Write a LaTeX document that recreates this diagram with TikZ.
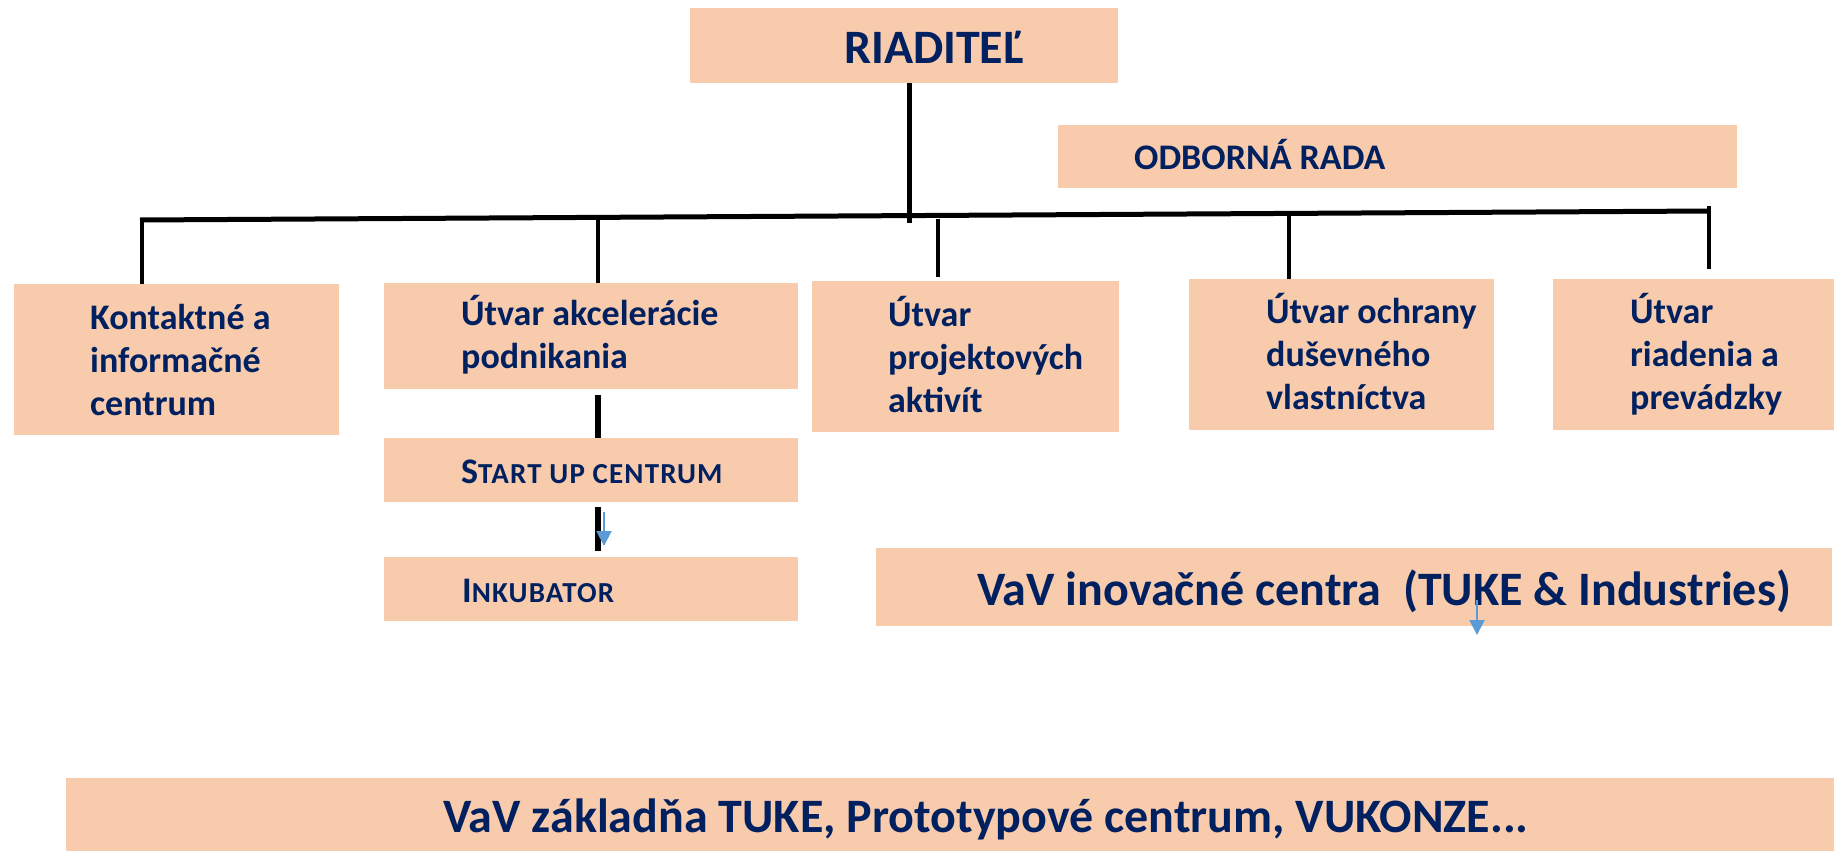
\documentclass[tikz,border=0pt]{standalone}
\usepackage{fontspec}
\setmainfont{Carlito}
\usetikzlibrary{arrows.meta}
\definecolor{boxfill}{HTML}{F8CBAD}
\definecolor{navy}{HTML}{002060}
\definecolor{arrblue}{HTML}{5B9BD5}
\newcommand\orgtext[4]{\makebox[#1pt][l]{\hspace*{#2pt}\raisebox{-#4pt}[\height][\depth]{\begin{tabular}{@{}l@{}}#3\end{tabular}}}}
\newcommand\smallcapsfake[1]{{\fontsize{29}{35}\selectfont\addfontfeature{LetterSpace=4}#1}}
\begin{document}
\begin{tikzpicture}[x=1pt,y=-1pt,
  orgbox/.style={fill=boxfill, draw=none, inner sep=0pt, anchor=north west, text=navy,
    font=\bfseries\fontsize{36}{43}\selectfont},
  bar/.style={line width=5pt, black},
  drop/.style={line width=4.5pt, black},
  bluearrow/.style={draw=arrblue, line width=2pt, -{Triangle[width=15pt,length=15pt]}}
]
\useasboundingbox (0,0) rectangle (1834,851);

% boxes (last argument of \orgtext: how far the text is lowered)
\node[orgbox, minimum width=428pt, minimum height=75pt,
  font=\bfseries\fontsize{48}{57}\selectfont] (riad) at (690,8) {\orgtext{428}{154}{RIADITEĽ}{6}};
\node[orgbox, minimum width=679pt, minimum height=63pt,
  font=\bfseries\fontsize{36}{43}\selectfont] (odb) at (1058,125) {\orgtext{679}{76}{ODBORNÁ RADA}{4}};
\node[orgbox, minimum width=325pt, minimum height=151pt] (k) at (14,284)
  {\orgtext{325}{76}{Kontaktné a\\informačné\\centrum}{4}};
\node[orgbox, minimum width=414pt, minimum height=106pt] (akc) at (384,283)
  {\orgtext{414}{77}{Útvar akcelerácie\\podnikania}{2.5}};
\node[orgbox, minimum width=307pt, minimum height=151pt] (proj) at (812,281)
  {\orgtext{307}{76}{Útvar\\projektových\\aktivít}{4}};
\node[orgbox, minimum width=305pt, minimum height=151pt] (och) at (1189,279)
  {\orgtext{305}{77}{Útvar ochrany\\duševného\\vlastníctva}{3.5}};
\node[orgbox, minimum width=281pt, minimum height=151pt] (ria) at (1553,279)
  {\orgtext{281}{77}{Útvar\\riadenia a\\prevádzky}{3}};
\node[orgbox, minimum width=414pt, minimum height=64pt] (start) at (384,438)
  {\orgtext{414}{77}{S\smallcapsfake{TART UP CENTRUM}}{5}};
\node[orgbox, minimum width=414pt, minimum height=64pt] (ink) at (384,557)
  {\orgtext{414}{78}{I\smallcapsfake{NKUBATOR}}{5}};
\node[orgbox, minimum width=956pt, minimum height=78pt,
  font=\bfseries\fontsize{48}{57}\selectfont] (vav) at (876,548)
  {\orgtext{956}{101}{VaV inovačné centra \ (TUKE \& Industries)}{7}};
\node[orgbox, minimum width=1768pt, minimum height=73pt,
  font=\bfseries\fontsize{48}{57}\selectfont] (base) at (66,778)
  {\orgtext{1768}{377}{VaV základňa TUKE, Prototypové centrum, VUKONZE...}{6}};

% connectors
\coordinate (hl) at (140,220);
\coordinate (hr) at (1710,211);
\draw[bar] (hl) -- (hr);
\coordinate (rj) at (909,223);
\draw[bar] (riad.south -| rj) -- (rj);
\coordinate (d1) at (142,218);
\coordinate (d2) at (598,219);
\coordinate (d3) at (938,219);
\coordinate (d4) at (1289,216);
\coordinate (d5) at (1709,206);
\draw[drop] (d1) -- (d1 |- k.north);
\draw[drop] (d2) -- (d2 |- akc.north);
\draw[drop] (d3) -- ([yshift=4pt]d3 |- proj.north);
\draw[drop] (d4) -- (d4 |- och.north);
\draw[drop] (d5) -- ([yshift=10pt]d5 |- ria.north);
\draw[line width=6pt] ([yshift=-6pt]d2 |- akc.south) -- (d2 |- start.north);
\draw[line width=6pt] ([yshift=-5pt]d2 |- start.south) -- ([yshift=6pt]d2 |- ink.north);
\coordinate (ba) at (604,512);
\draw[bluearrow] (ba) -- ([yshift=11pt]ba |- ink.north);
\coordinate (vavend) at (1477,635);
\draw[bluearrow] ([yshift=35pt]vavend) -- (vavend);
\end{tikzpicture}
\end{document}
